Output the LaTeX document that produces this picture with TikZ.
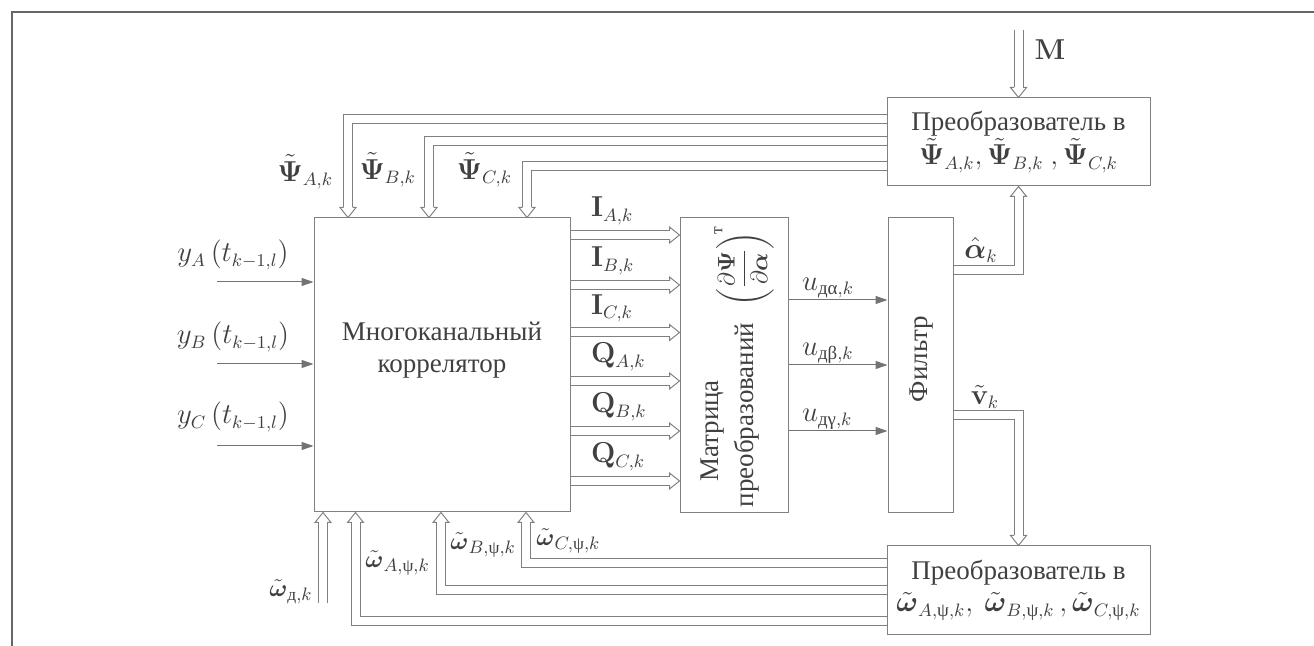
\documentclass[tikz,border=0pt]{standalone}
\usepackage[no-math]{fontspec}
\setmainfont{Liberation Serif}
\usepackage{amsmath}
\usetikzlibrary{arrows.meta}
\begin{document}
\begin{tikzpicture}[x=0.5pt,y=-0.5pt,
  every node/.style={font=\fontsize{13.5}{16}\selectfont, text=black!75},
  wlab/.style={font=\fontsize{12.5}{15}\selectfont, inner sep=1pt},
  box/.style={draw=black!50, line width=0.5pt, inner sep=0pt},
  dbl/.style={draw=black!50, line width=0.5pt, double=white, double distance=4pt, shorten >=5pt},
  sarr/.style={draw=black!55, line width=0.5pt, -{Triangle[length=6pt,width=4pt]}},
  dhead/.pic={\draw[black!50, line width=0.5pt] (-10,4.5)--(-10,8)--(0,0)--(-10,-8)--(-10,-4.5);},
  frame/.style={draw=black!60, line width=0.6pt}
]
\useasboundingbox (0,0) rectangle (1314,646);
\draw[frame] (1314,12) -- (12,12) -- (12,646);

% boxes
\node[box, minimum width=128pt, minimum height=147pt] (corr) at (442,365) {};
\node (corrT) at (442,350) [align=center] {Многоканальный\\коррелятор};
\node[box, minimum width=54pt, minimum height=147.5pt] (matr) at (734,365.5) {};
\node[rotate=90] (matrT1) at (713,431) {Матрица};
\node[rotate=90] (matrT2) at (747,415) {преобразований};
\node[rotate=90, inner sep=0pt, font=\fontsize{12.5}{14}\selectfont] (matrF) at (744,266)
  {$\left(\dfrac{\partial\boldsymbol{\Psi}}{\partial\boldsymbol{\alpha}}\right)^{\!\text{т}}$};
\node[box, minimum width=32.5pt, minimum height=147.5pt] (filt) at (920.5,365.5) {};
\node[rotate=90] (filtT) at (922,359) {Фильтр};
\node[box, minimum width=131.5pt, minimum height=44pt, align=center] (conv1) at (1018.5,142)
  {Преобразователь в\\$\tilde{\mathbf{\Psi}}_{A,k},\tilde{\mathbf{\Psi}}_{B,k}\ ,\tilde{\mathbf{\Psi}}_{C,k}$};
\node[box, minimum width=131.5pt, minimum height=44.5pt, align=center] (conv2) at (1018.5,590.5)
  {Преобразователь в\\$\tilde{\boldsymbol{\omega}}_{A,\text{ψ},k},\ \tilde{\boldsymbol{\omega}}_{B,\text{ψ},k}\,,\tilde{\boldsymbol{\omega}}_{C,\text{ψ},k}$};

% M input
\coordinate (Min) at (1018.5,30);
\draw[dbl] (Min) -- (conv1.north);
\pic[rotate=-90] at (conv1.north) {dhead};
\node (lM) at (1050,50) {$\mathbf{M}$};

% psi feedback to correlator
\coordinate (yA) at (0,119);   \coordinate (xA) at (348,0);
\coordinate (yB) at (0,141.5); \coordinate (xB) at (429,0);
\coordinate (yC) at (0,166);   \coordinate (xC) at (527,0);
\draw[dbl] (conv1.west |- yA) -| (corr.north -| xA);
\draw[dbl] (conv1.west |- yB) -| (corr.north -| xB);
\draw[dbl] (conv1.west |- yC) -| (corr.north -| xC);
\pic[rotate=-90] at (corr.north -| xA) {dhead};
\pic[rotate=-90] at (corr.north -| xB) {dhead};
\pic[rotate=-90] at (corr.north -| xC) {dhead};
\node[anchor=east] (lpA) at (340,172) {$\tilde{\mathbf{\Psi}}_{A,k}$};
\node[anchor=east] (lpB) at (423,170) {$\tilde{\mathbf{\Psi}}_{B,k}$};
\node[anchor=east] (lpC) at (519,170) {$\tilde{\mathbf{\Psi}}_{C,k}$};

% inputs y
\coordinate (inA) at (217,282);
\coordinate (inB) at (217,364);
\coordinate (inC) at (217,446);
\draw[sarr] (inA) -- (corr.west |- inA);
\draw[sarr] (inB) -- (corr.west |- inB);
\draw[sarr] (inC) -- (corr.west |- inC);
\node (lyA) at (233,255) {$y_A\left(t_{k-1,l}\right)$};
\node (lyB) at (233,337) {$y_B\left(t_{k-1,l}\right)$};
\node (lyC) at (233,417) {$y_C\left(t_{k-1,l}\right)$};

% I, Q
\foreach \yy/\lab [count=\i] in {235/{\mathbf{I}_{A,k}},285/{\mathbf{I}_{B,k}},332.5/{\mathbf{I}_{C,k}},381/{\mathbf{Q}_{A,k}},431/{\mathbf{Q}_{B,k}},481/{\mathbf{Q}_{C,k}}}{
  \draw[dbl] (corr.east |- 0,\yy) -- (matr.west |- 0,\yy);
  \pic at (matr.west |- 0,\yy) {dhead};
  \node[anchor=west] (lIQ\i) at (584,\yy-24) {$\lab$};
}

% u outputs
\foreach \yy/\lab [count=\i] in {300/{\text{дα}},365/{\text{дβ}},431/{\text{дγ}}}{
  \draw[sarr] (matr.east |- 0,\yy) -- (filt.west |- 0,\yy);
  \node[anchor=west] (lu\i) at (795,\yy-12) {$u_{\lab,k}$};
}

% filter outputs
\coordinate (ya) at (0,270);
\coordinate (yv) at (0,415);
\draw[dbl] (filt.east |- ya) -| (conv1.south);
\pic[rotate=90] at (conv1.south) {dhead};
\node (la) at (981,250) {$\hat{\boldsymbol{\alpha}}_k$};
\draw[dbl] (filt.east |- yv) -| (conv2.north);
\pic[rotate=-90] at (conv2.north) {dhead};
\node (lv) at (985,397) {$\tilde{\mathbf{v}}_k$};

% omega feedback
\coordinate (wd) at (323,603);
\draw[dbl] (wd) -- (corr.south -| wd);
\pic[rotate=90] at (corr.south -| wd) {dhead};
\node[wlab, anchor=east] (lwd) at (315,592) {$\tilde{\boldsymbol{\omega}}_{\text{д},k}$};
\coordinate (ywA) at (0,620.7); \coordinate (xwA) at (355.5,0);
\coordinate (ywB) at (0,590);   \coordinate (xwB) at (441,0);
\coordinate (ywC) at (0,563);   \coordinate (xwC) at (526,0);
\draw[dbl] (conv2.west |- ywA) -| (corr.south -| xwA);
\draw[dbl] (conv2.west |- ywB) -| (corr.south -| xwB);
\draw[dbl] (conv2.west |- ywC) -| (corr.south -| xwC);
\pic[rotate=90] at (corr.south -| xwA) {dhead};
\pic[rotate=90] at (corr.south -| xwB) {dhead};
\pic[rotate=90] at (corr.south -| xwC) {dhead};
\node[wlab, anchor=west] (lwA) at (363,563) {$\tilde{\boldsymbol{\omega}}_{A,\text{ψ},k}$};
\node[wlab, anchor=west] (lwB) at (448,545) {$\tilde{\boldsymbol{\omega}}_{B,\text{ψ},k}$};
\node[wlab, anchor=west] (lwC) at (534,541) {$\tilde{\boldsymbol{\omega}}_{C,\text{ψ},k}$};
\end{tikzpicture}
\end{document}
